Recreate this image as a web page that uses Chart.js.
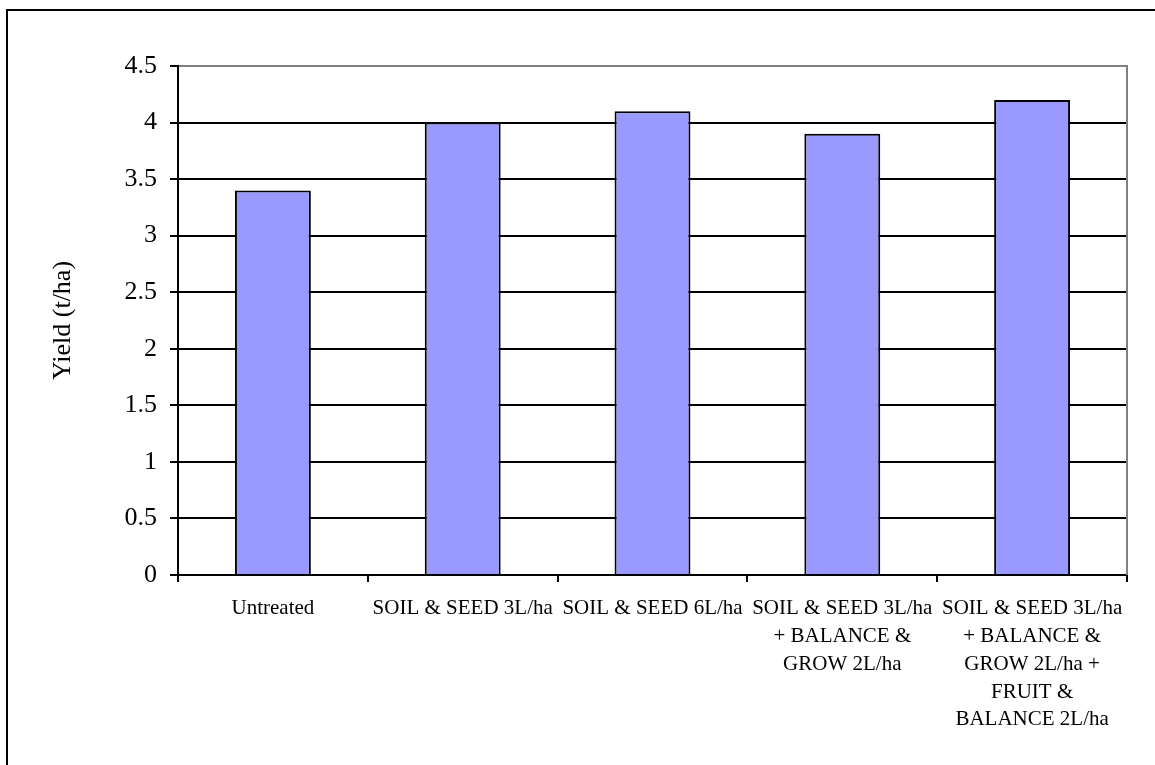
<!DOCTYPE html>
<html>
<head>
<meta charset="utf-8">
<script src="https://cdn.jsdelivr.net/npm/chart.js@4/dist/chart.umd.min.js"></script>
<style>
html,body{margin:0;padding:0;background:#fff;}
canvas{display:block;}
</style>
</head>
<body>
<canvas id="c" width="1155" height="765"></canvas>
<script>
const categories = [
  "Untreated",
  "SOIL & SEED 3L/ha",
  "SOIL & SEED 6L/ha",
  ["SOIL & SEED 3L/ha", "+ BALANCE &", "GROW 2L/ha"],
  ["SOIL & SEED 3L/ha", "+ BALANCE &", "GROW 2L/ha +", "FRUIT &", "BALANCE 2L/ha"]
];
const yieldValues = [3.4, 4.0, 4.1, 3.9, 4.2];
const yTitle = "Yield (t/ha)";
const yMin = 0, yMax = 4.5, yStep = 0.5;

const FONT = "'Liberation Serif', 'Times New Roman', serif";

const framePlugin = {
  id: 'frame',
  beforeDraw(chart) {
    const c = chart.ctx;
    c.save();
    c.fillStyle = '#fff';
    c.fillRect(0, 0, chart.width, chart.height);
    c.restore();
  },
  afterDraw(chart) {
    const c = chart.ctx;
    const a = chart.chartArea;
    c.save();
    c.strokeStyle = '#000';
    c.lineWidth = 2;
    c.beginPath();
    c.moveTo(7, chart.height);
    c.lineTo(7, 10);
    c.lineTo(chart.width, 10);
    c.stroke();
    c.strokeStyle = '#808080';
    c.lineWidth = 2;
    c.beginPath();
    c.moveTo(a.right, a.top - 1);
    c.lineTo(a.right, a.bottom);
    c.stroke();
    c.restore();
  }
};

new Chart(document.getElementById('c'), {
  type: 'bar',
  data: {
    labels: categories,
    datasets: [{
      data: yieldValues,
      backgroundColor: '#9999FF',
      borderColor: '#000000',
      borderWidth: 2,
      barPercentage: 0.4,
      categoryPercentage: 1.0
    }]
  },
  options: {
    responsive: false,
    animation: false,
    devicePixelRatio: 1,
    layout: { padding: { top: 66, right: 28, left: 0, bottom: 0 } },
    plugins: { legend: { display: false }, tooltip: { enabled: false } },
    scales: {
      x: {
        offset: true,
        grid: { display: true, drawOnChartArea: false, offset: true, color: '#000', lineWidth: 2, tickLength: 7 },
        border: { display: true, color: '#000', width: 2 },
        ticks: {
          color: '#000',
          font: { family: FONT, size: 21, lineHeight: 1.32 },
          maxRotation: 0, minRotation: 0, autoSkip: false,
          padding: 13
        },
        afterFit(scale) { scale.height = 190; }
      },
      y: {
        min: yMin, max: yMax,
        grid: {
          color: (ctx) => (ctx.tick && ctx.tick.value === yMax) ? '#808080' : '#000',
          tickColor: '#000',
          lineWidth: 2,
          tickLength: 8
        },
        border: { display: true, color: '#000', width: 2 },
        ticks: {
          stepSize: yStep,
          color: '#000',
          font: { family: FONT, size: 26 },
          padding: 13,
          callback: (v) => String(v)
        },
        title: {
          display: true,
          text: yTitle,
          color: '#000',
          font: { family: FONT, size: 26, lineHeight: 1.2 },
          padding: { top: 48, bottom: 0 }
        },
        afterFit(scale) { scale.width = 178; }
      }
    }
  },
  plugins: [framePlugin]
});
</script>
</body>
</html>
